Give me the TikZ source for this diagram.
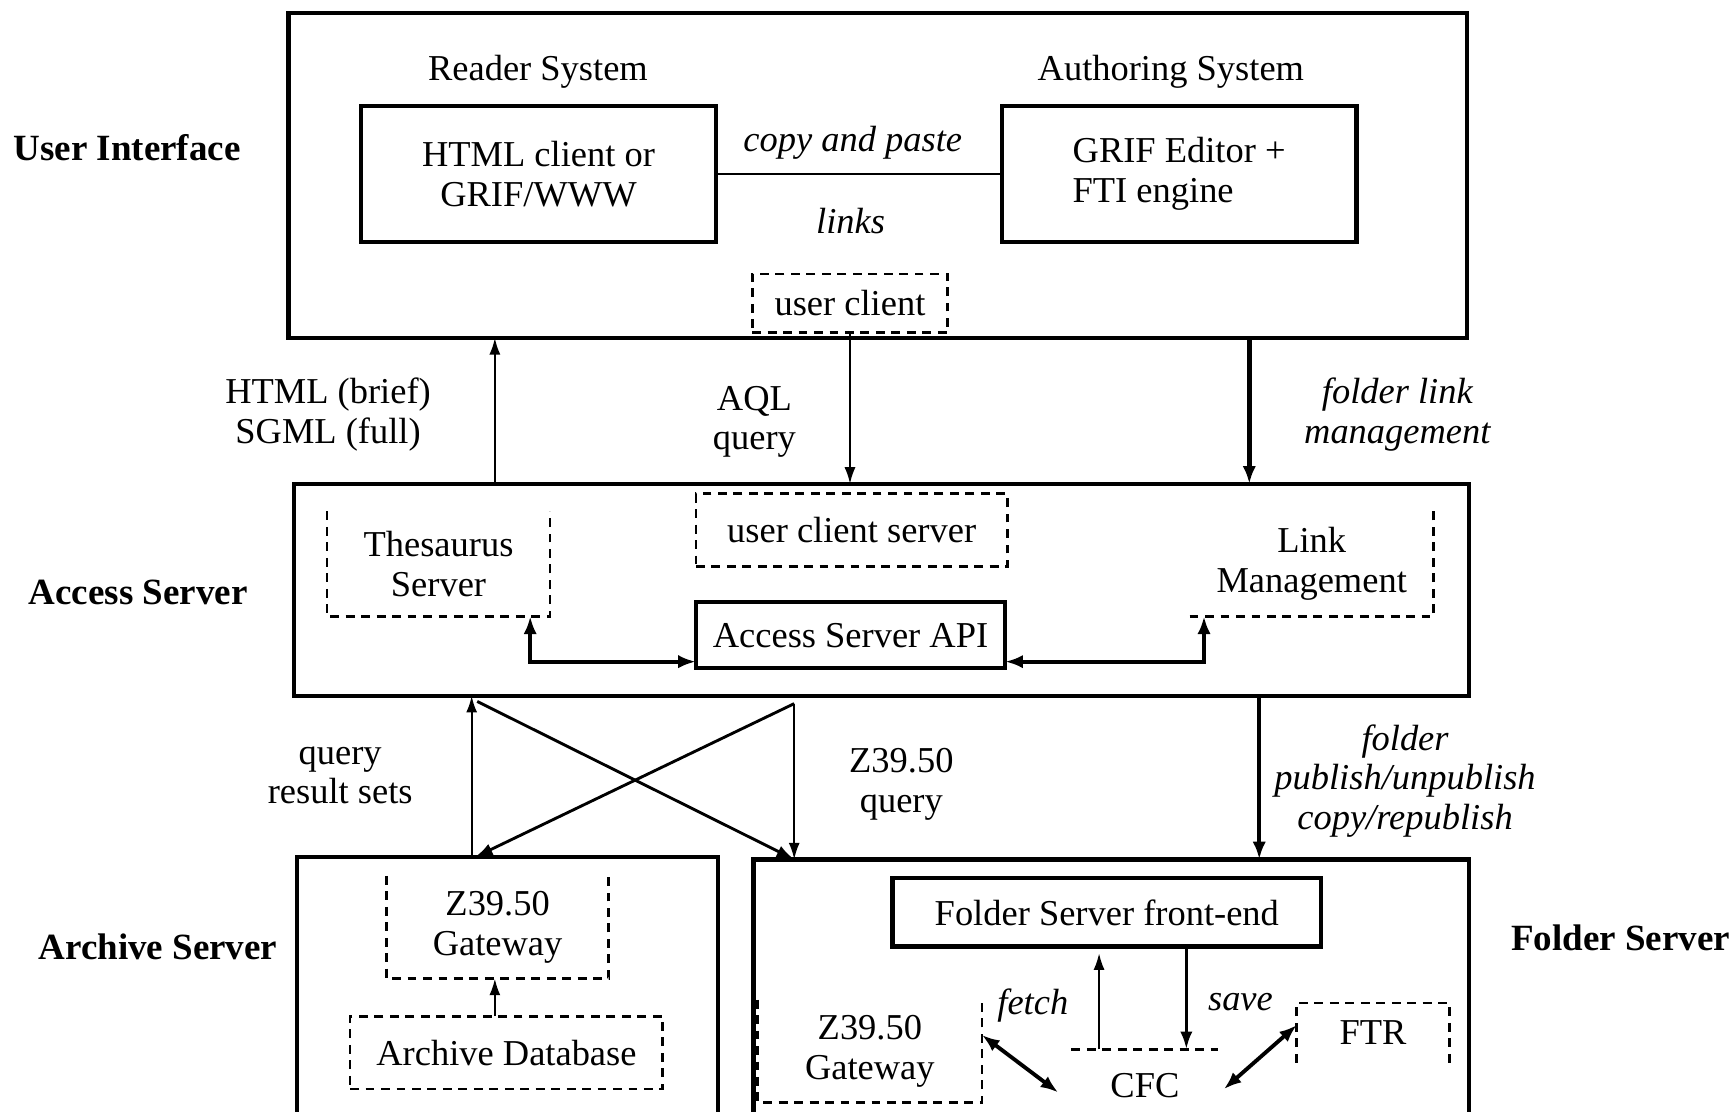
\documentclass[tikz,border=0pt]{standalone}
\usepackage{fontspec}
\setmainfont{Liberation Serif}
\usetikzlibrary{arrows.meta,calc}
\newcommand\myfs{\fontsize{33}{36}\selectfont}
\newcommand\myfsb{\fontsize{33.5}{36}\selectfont\bfseries}
\tikzset{
  bigbox/.style={draw, line width=4pt, inner sep=0pt, outer sep=0pt, anchor=north west},
  solidbox/.style={draw, line width=4pt, inner sep=0pt, outer sep=0pt, anchor=north west, align=center, font=\myfs},
  dashbox/.style={draw, dash pattern=on 8pt off 6pt, line width=2.4pt, inner sep=0pt, outer sep=0pt, anchor=north west, align=center, font=\myfs},
  openbox/.style={inner sep=0pt, outer sep=0pt, anchor=north west, align=center, font=\myfs},
  dashline/.style={dash pattern=on 8pt off 6pt, line width=2.4pt},
  lbl/.style={font=\myfs, align=center, inner sep=0pt},
  lbli/.style={font=\myfs\itshape, align=center, inner sep=0pt},
  lblb/.style={font=\myfsb, align=center, inner sep=0pt},
  thinline/.style={line width=1.8pt},
  thinarrow/.style={line width=1.8pt, -{Latex[length=15pt,width=10pt]}},
  diagarrow/.style={line width=2.6pt, -{Latex[length=16pt,width=11pt]}},
  medarrow/.style={line width=3pt, -{Latex[length=16pt,width=11pt]}},
  thickarrow/.style={line width=4pt, -{Latex[length=16pt,width=12pt]}},
  dblarrow/.style={line width=3.5pt, {Latex[length=16pt,width=12pt]}-{Latex[length=16pt,width=12pt]}}
}
\begin{document}
\begin{tikzpicture}[x=1pt,y=-1pt]
\useasboundingbox (0,0) rectangle (1568,1006);
\clip (0,0) rectangle (1568,1006);
\fill[white] (0,0) rectangle (1568,1006);

% column helpers
\coordinate (c427) at (427,0);
\coordinate (c430) at (430,0);
\coordinate (c448) at (448,0);
\coordinate (c480) at (480,0);
\coordinate (c995) at (995,0);
\coordinate (c1074) at (1074,0);
\coordinate (c1090) at (1090,0);
\coordinate (c1131) at (1131,0);
\coordinate (c1140) at (1140,0);

% ---------------- User Interface
\node[bigbox, minimum width=1067, minimum height=294] (ui) at (261,12) {};
\node[lblb] (lui) at (115,134) {User Interface};
\node[lbl] (lrs) at (487,65) {Reader System};
\node[lbl] (las) at (1060,65) {Authoring System};
\node[solidbox, minimum width=321, minimum height=123] (html) at (327,96) {HTML client or\\GRIF/WWW};
\node[solidbox, minimum width=321, minimum height=123, align=left] (grif) at (907,96) {GRIF Editor +\\FTI engine};
\draw[thinline] (html.east) -- (grif.west);
\node[lbli] (lcp) at (772,129) {copy and paste};
\node[lbli] (llk) at (770,200) {links};
\node[dashbox, minimum width=177, minimum height=53] (uc) at (681,248) {user client};

% ---------------- Access Server
\node[bigbox, minimum width=1064, minimum height=192] (acc) at (266,438) {};
\node[lblb] (lacc) at (125,536) {Access Server};
\node[openbox, minimum width=202, minimum height=95] (thes) at (296,463) {Thesaurus\\Server};
\draw[dashline] (thes.north west) |- (thes.south east) -- (thes.north east);
\node[dashbox, minimum width=282, minimum height=66] (ucs) at (630,447) {user client server};
\node[openbox, minimum width=221, minimum height=95] (link) at (1077,463) {Link\\Management};
\draw[dashline] (link.south west) -| (link.north east);
\node[solidbox, minimum width=280, minimum height=60] (api) at (630,545) {\raisebox{-5pt}{Access Server API}};

% UI <-> Access
\draw[thinarrow] (acc.north -| c448) -- (ui.south -| c448);
\draw[thinarrow] (uc.south) -- (acc.north -| uc.south);
\draw[thickarrow] (ui.south -| c1131) -- (acc.north -| c1131);
\node[lbl] (lhtml) at (297,375) {HTML (brief)\\SGML (full)};
\node[lbl] (laql) at (683,382) {AQL\\query};
\node[lbli] (lflm) at (1265,375) {folder link\\management};

% inside Access
\draw[dblarrow] (thes.south -| c480) |- ([yshift=6pt]api.south west);
\draw[dblarrow] ([yshift=6pt]api.south east) -| (link.south -| c1090);

% ---------------- Archive Server
\node[bigbox, minimum width=381, minimum height=300] (arch) at (269,776) {};
\node[lblb] (larch) at (143,857) {Archive Server};
\node[openbox, minimum width=201, minimum height=93] (gw1) at (350,793) {Z39.50\\Gateway};
\draw[dashline] (gw1.north west) |- (gw1.south east) -- (gw1.north east);
\node[dashbox, minimum width=283, minimum height=66] (adb) at (317,920) {Archive Database};
\draw[thinarrow] (adb.north -| c448) -- (gw1.south -| c448);

% ---------------- Folder Server
\node[bigbox, minimum width=648, minimum height=300] (folder) at (682,778) {};
\node[lblb] (lfs) at (1467,849) {Folder Server};
\node[solidbox, minimum width=388, minimum height=62] (fse) at (808,795) {Folder Server front-end};
\node[openbox, minimum width=203, minimum height=93] (gw2) at (686,905) {Z39.50\\Gateway};
\draw[dashline] (gw2.north west) |- (gw2.south east) -- (gw2.north east);
\node[openbox, minimum width=138, minimum height=54] (ftr) at (1174,908) {FTR};
\draw[dashline] (ftr.south west) |- (ftr.north east) -- (ftr.south east);
\node[openbox, minimum width=133, minimum height=66] (cfc) at (970,950) {CFC};
\draw[dashline] (cfc.north west) -- (cfc.north east);
\draw[thinarrow, shorten >=6pt] (cfc.north -| c995) -- (fse.south -| c995);
\draw[medarrow] (fse.south -| c1074) -- (cfc.north -| c1074);
\node[lbli] (lfetch) at (935,910) {fetch};
\node[lbli] (lsave) at (1123,907) {save};
\draw[dblarrow] ([yshift=-32pt]gw2.north east) -- ([xshift=-12pt,yshift=-6pt]cfc.west);
\draw[dblarrow] ([xshift=5pt,yshift=-3pt]cfc.east) -- ([yshift=7pt]ftr.west);

% ---------------- Access <-> Archive / Folder
\coordinate (d1) at (432,635);
\coordinate (d2) at (719,637);
\draw[thinarrow] (arch.north -| c427) -- (acc.south -| c427);
\draw[diagarrow] (d1) -- (folder.north -| d2);
\draw[diagarrow] (d2) -- (arch.north -| c430);
\draw[thinarrow] (d2) -- (folder.north -| d2);
\node[lbl] (lqrs) at (308,702) {query\\result sets};
\node[lbl] (lz39) at (816,710) {Z39.50\\query};
\draw[thickarrow] (acc.south -| c1140) -- (folder.north -| c1140);
\node[lbli] (lpub) at (1272,707) {folder\\publish/unpublish\\copy/republish};
\end{tikzpicture}
\end{document}
